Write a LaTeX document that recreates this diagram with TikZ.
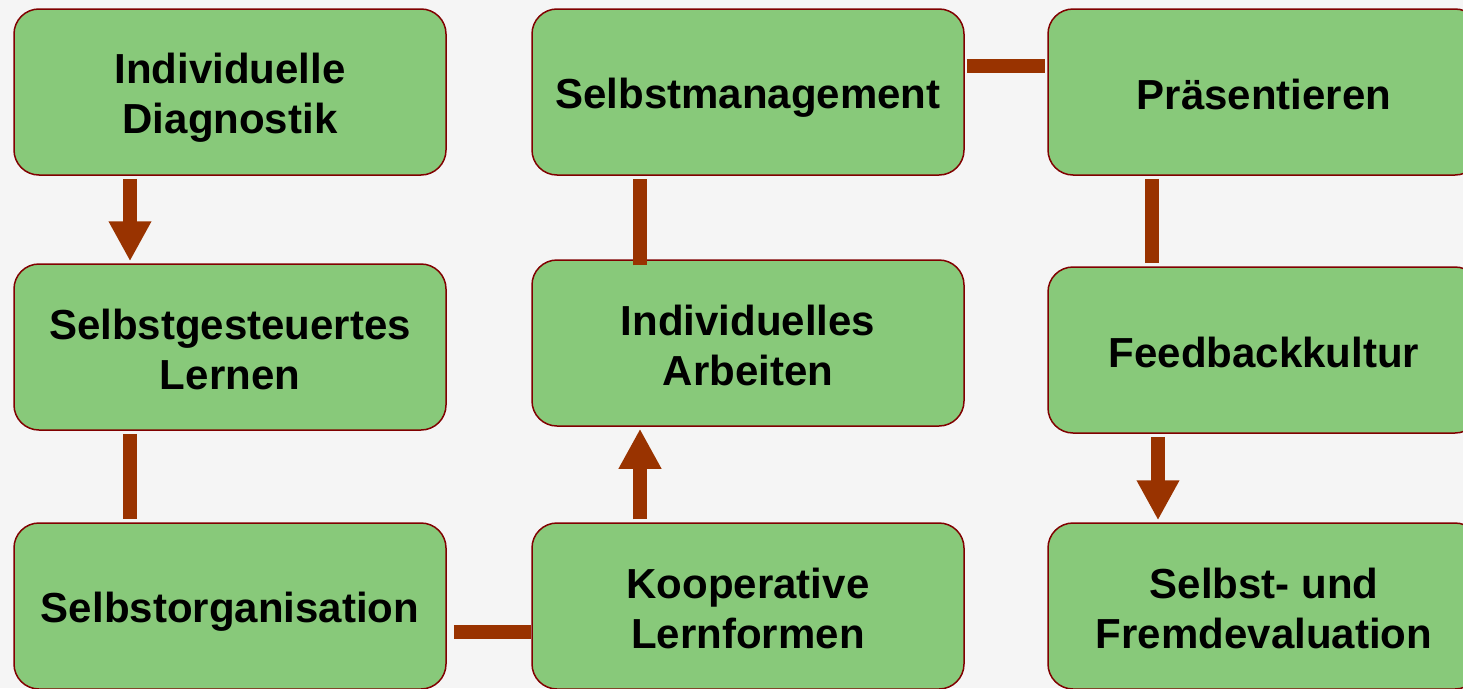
\documentclass[tikz,border=0pt]{standalone}
\usepackage{fontspec}
\setmainfont{Liberation Sans}
\usetikzlibrary{arrows.meta}
\definecolor{boxgreen}{RGB}{136,201,122}
\definecolor{boxred}{RGB}{128,0,0}
\definecolor{linkbrown}{RGB}{153,51,0}
\definecolor{bggray}{RGB}{245,245,245}
\newcommand{\boxstrut}{\rule[-7pt]{0pt}{48pt}}

\begin{document}
\begin{tikzpicture}[x=1pt,y=-1pt,
    box/.style={draw=boxred, line width=1.5pt, fill=boxgreen, rounded corners=25pt,
      minimum width=432pt, minimum height=166pt, inner sep=0pt, align=center,
      font=\fontsize{42}{50}\selectfont\bfseries},
    link/.style={draw=linkbrown, line width=14pt, shorten <=3pt, shorten >=3pt},
    arr/.style={link, -{Triangle[length=40pt,width=40pt]}, shorten >=2pt}]
    \fill[bggray] (0,0) rectangle (1463,688);
    \useasboundingbox (0,0) rectangle (1463,688);
    \node[box] (diag) at (230,92) {\boxstrut Individuelle\\Diagnostik\boxstrut};
    \node[box] (sgl) at (230,347) {\boxstrut Selbstgesteuertes\\Lernen\boxstrut};
    \node[box] (sorg) at (230,606) {\boxstrut Selbstorganisation};
    \node[box] (koop) at (748,606) {\boxstrut Kooperative\\Lernformen\boxstrut};
    \node[box] (iarb) at (748,343) {\boxstrut Individuelles\\Arbeiten\boxstrut};
    \node[box] (sman) at (748,92) {\boxstrut Selbstmanagement};
    \node[box] (pres) at (1264,92) {\boxstrut Präsentieren};
    \node[box] (feed) at (1264,350) {\boxstrut Feedbackkultur};
    \node[box] (eval) at (1264,606) {\boxstrut Selbst- und\\Fremdevaluation\boxstrut};
    \draw[arr] ([xshift=-100pt]diag.south) -- ([xshift=-100pt]sgl.north);
    \draw[link] ([xshift=-100pt]sgl.south) -- ([xshift=-100pt]sorg.north);
    \draw[link, shorten <=7pt, shorten >=0pt] ([yshift=-26pt]sorg.east) -- ([yshift=-26pt]koop.west);
    \draw[arr] ([xshift=-108pt]koop.north) -- ([xshift=-108pt]iarb.south);
    \draw[link, shorten <=-6pt] ([xshift=-108pt]iarb.north) -- ([xshift=-108pt]sman.south);
    \draw[link, shorten <=2pt, shorten >=2pt] ([yshift=26pt]sman.east) -- ([yshift=26pt]pres.west);
    \draw[link] ([xshift=-112pt]pres.south) -- ([xshift=-112pt]feed.north);
    \draw[arr] ([xshift=-106pt]feed.south) -- ([xshift=-106pt]eval.north);
  \end{tikzpicture}
\end{document}
